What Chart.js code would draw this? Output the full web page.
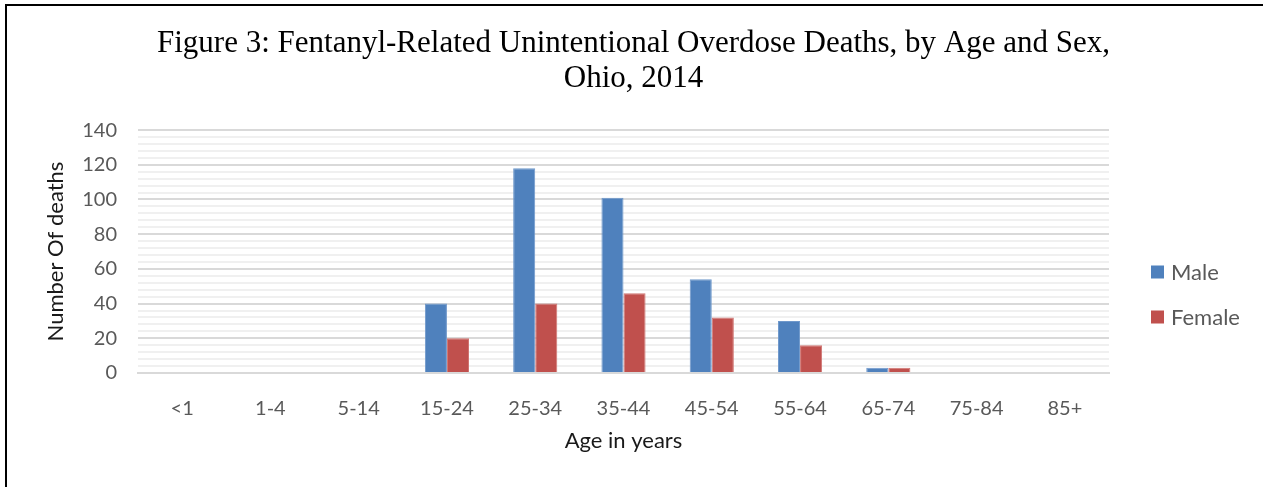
<!DOCTYPE html>
<html>
<head>
<meta charset="utf-8">
<script src="https://cdn.jsdelivr.net/npm/chart.js@4/dist/chart.umd.min.js"></script>
<style>
  html, body { margin: 0; padding: 0; background: #ffffff; }
  #wrap { position: relative; width: 1267px; height: 487px; }
</style>
</head>
<body>
<div id="wrap"><canvas id="chart" width="1267" height="487"></canvas></div>
<script>
// Age groups along the x axis
const ageGroups = ['<1', '1-4', '5-14', '15-24', '25-34', '35-44', '45-54', '55-64', '65-74', '75-84', '85+'];

// Deaths per age group
const maleDeaths   = [0, 0, 0, 40, 118, 101, 54, 30, 3, 0, 0];
const femaleDeaths = [0, 0, 0, 20, 40, 46, 32, 16, 3, 0, 0];

// Y axis range and labelled ticks
const yMin = 0;
const yMax = 140;
const yMinorStep = 4;
const yMajorStep = 20;

const titleLines = ['Figure 3: Fentanyl-Related Unintentional Overdose Deaths, by Age and Sex,', 'Ohio, 2014'];

const sansFont = 'Lato, "Open Sans", sans-serif';

// White page with a black frame on the left and top edges
const framePlugin = {
  id: 'frame',
  beforeDraw(chart) {
    const ctx = chart.ctx;
    ctx.save();
    ctx.fillStyle = '#ffffff';
    ctx.fillRect(0, 0, chart.width, chart.height);
    ctx.fillStyle = '#000000';
    ctx.fillRect(5, 4, 2, chart.height - 4);
    ctx.fillRect(5, 4, 1258, 2);
    ctx.restore();
  }
};

// Centre the title across the whole canvas rather than the padded area
const titleSpanPlugin = {
  id: 'titleSpan',
  afterLayout(chart) {
    if (chart.titleBlock) {
      chart.titleBlock.left = 0;
      chart.titleBlock.right = chart.width;
      chart.titleBlock.width = chart.width;
    }
  }
};

// Legend to the right of the plot, built from the datasets
const sideLegendPlugin = {
  id: 'sideLegend',
  afterDraw(chart) {
    const ctx = chart.ctx;
    const x = 1151;
    const rows = [272, 317];
    ctx.save();
    ctx.font = '22px ' + sansFont;
    ctx.textBaseline = 'middle';
    ctx.textAlign = 'left';
    chart.data.datasets.forEach((ds, i) => {
      const y = rows[i];
      ctx.fillStyle = ds.backgroundColor;
      ctx.fillRect(x, y - 6.5, 13, 13);
      ctx.fillStyle = '#595959';
      ctx.fillText(ds.label, x + 20, y + 1);
    });
    ctx.restore();
  }
};

new Chart(document.getElementById('chart'), {
  type: 'bar',
  data: {
    labels: ageGroups,
    datasets: [
      {
        label: 'Male',
        data: maleDeaths,
        backgroundColor: '#4f81bd',
        borderColor: '#6f98cb',
        borderWidth: { top: 1, left: 1, right: 1, bottom: 0 },
        categoryPercentage: 0.5,
        barPercentage: 1.0
      },
      {
        label: 'Female',
        data: femaleDeaths,
        backgroundColor: '#c0504d',
        borderColor: '#d07572',
        borderWidth: { top: 1, left: 1, right: 1, bottom: 0 },
        categoryPercentage: 0.5,
        barPercentage: 1.0
      }
    ]
  },
  options: {
    responsive: false,
    animation: false,
    devicePixelRatio: 1,
    layout: { padding: { left: 10, right: 158, top: 0, bottom: 0 } },
    plugins: {
      legend: { display: false },
      tooltip: { enabled: false },
      title: {
        display: true,
        text: titleLines,
        color: '#000000',
        font: { family: '"Liberation Serif", "DejaVu Serif", serif', size: 31, weight: 'normal', lineHeight: 1.13 },
        padding: { top: 26, bottom: 34 }
      }
    },
    scales: {
      x: {
        grid: { display: false },
        border: { display: true, color: '#d9d9d9', width: 2 },
        ticks: {
          color: '#595959',
          font: { family: sansFont, size: 20 },
          padding: 16,
          maxRotation: 0,
          autoSkip: false
        },
        title: {
          display: true,
          text: 'Age in years',
          color: '#1a1a1a',
          font: { family: sansFont, size: 22 },
          padding: { top: 0, bottom: 33 }
        },
        afterFit(scale) { scale.height = 114; }
      },
      y: {
        min: yMin,
        max: yMax,
        border: { display: false },
        grid: {
          drawTicks: false,
          lineWidth: 2,
          color: (c) => (c.tick && c.tick.value % yMajorStep === 0) ? '#d9d9d9' : '#f0f0f0'
        },
        ticks: {
          stepSize: yMinorStep,
          autoSkip: false,
          color: '#595959',
          font: { family: sansFont, size: 20 },
          padding: 21,
          callback: (v) => (v % yMajorStep === 0 ? String(v) : '')
        },
        title: {
          display: true,
          text: 'Number Of deaths',
          color: '#1a1a1a',
          font: { family: sansFont, size: 22 },
          padding: { top: 33, bottom: 0 }
        },
        afterFit(scale) { scale.width = 128; }
      }
    }
  },
  plugins: [framePlugin, titleSpanPlugin, sideLegendPlugin]
});
</script>
</body>
</html>
